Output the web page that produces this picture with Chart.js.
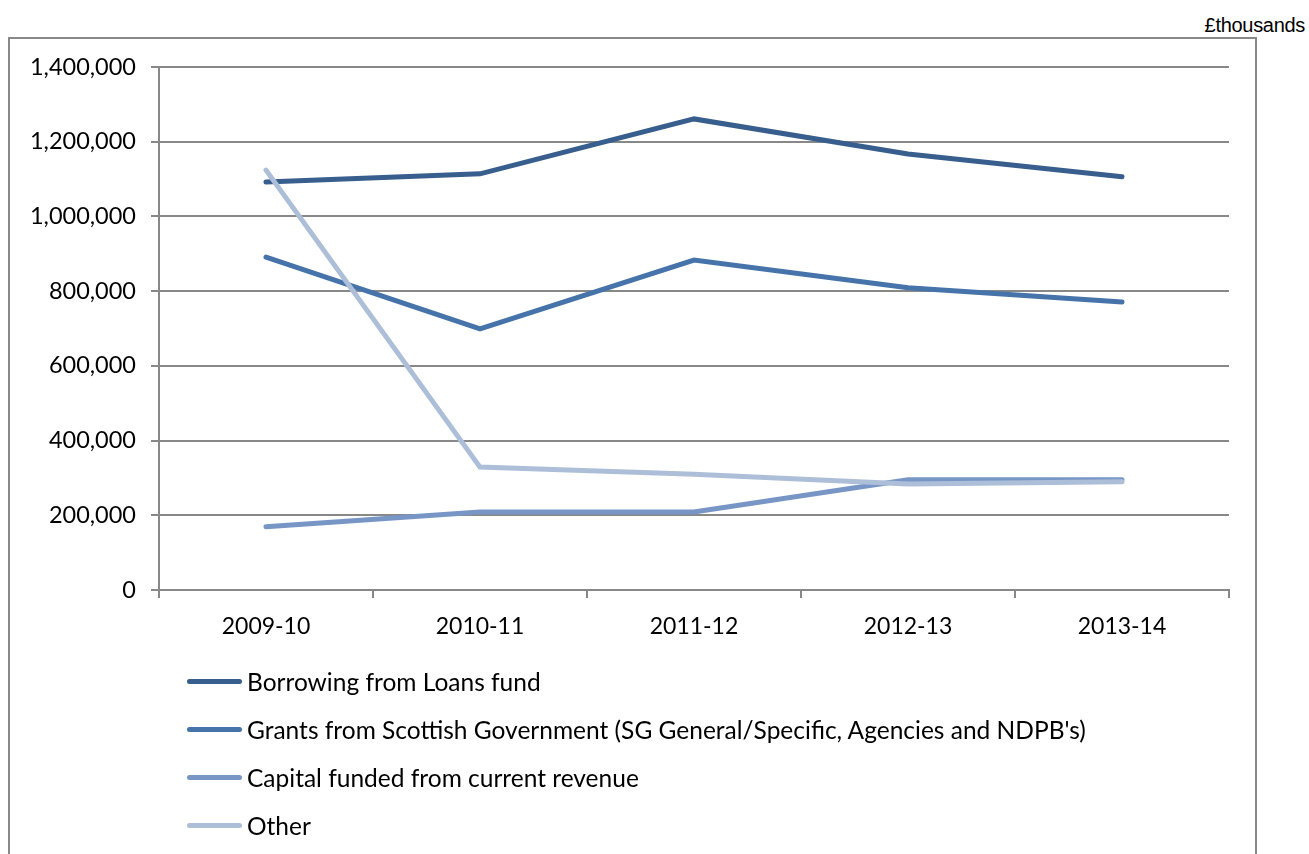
<!DOCTYPE html>
<html>
<head>
<meta charset="utf-8">
<script src="https://cdn.jsdelivr.net/npm/chart.js@4.4.1/dist/chart.umd.min.js"></script>
<style>
  body { margin: 0; background: #fff; width: 1309px; height: 854px; overflow: hidden; position: relative; }
  #frame { position: absolute; left: 8px; top: 37px; width: 1249px; height: 900px; border: 2px solid #888; box-sizing: border-box; }
  #unit { position: absolute; right: 4px; top: 14px; font: 20px "Liberation Sans", Arial, sans-serif; letter-spacing: -0.3px; color: #000; }
  #wrap { position: absolute; left: 0; top: 0; width: 1309px; height: 854px; }
  #legend { position: absolute; left: 187px; top: 657px; font: 24.5px Lato, sans-serif; color: #000; }
  .item { height: 48px; display: flex; align-items: center; }
  .swatch { width: 55px; height: 5px; border-radius: 3px; margin-right: 5px; }
</style>
</head>
<body>
<div id="frame"></div>
<div id="unit">£thousands</div>
<div id="wrap"><canvas id="chart" width="1309" height="854"></canvas></div>
<div id="legend"></div>
<script>
//data
const years = [ '2009-10', '2010-11', '2011-12', '2012-13', '2013-14' ];
const borrowing = [ 1092000, 1114000, 1261000, 1167000, 1106000 ];
const grants = [ 891000, 699000, 883000, 809000, 771000 ];
const capital = [ 169000, 209000, 209000, 295000, 295000 ];
const other = [ 1124000, 329000, 310000, 284000, 290000 ];
const seriesNames = [
	'Borrowing from Loans fund',
	"Grants from Scottish Government (SG General/Specific, Agencies and NDPB's)",
	'Capital funded from current revenue',
	'Other'
];
const seriesColors = [ 'rgb(56,94,141)', 'rgb(70,116,170)', 'rgb(119,150,197)', 'rgb(173,190,217)' ];
const yTicks = [ 0, 200000, 400000, 600000, 800000, 1000000, 1200000, 1400000 ];

const gridColor = '#888';
const seriesData = [ borrowing, grants, capital, other ];

//build datasets, later series on top like Excel
const datasets = seriesData.map((d, i) => ({
	label: seriesNames[i],
	data: d,
	borderColor: seriesColors[i],
	backgroundColor: seriesColors[i],
	borderWidth: 5,
	borderCapStyle: 'round',
	borderJoinStyle: 'miter',
	tension: 0,
	pointRadius: 0,
	order: seriesData.length - i
}));

const ctx = document.querySelector('#chart').getContext('2d');
const chart = new Chart(ctx, {
	type: 'line',
	data: { labels: years, datasets: datasets },
	options: {
		responsive: false,
		animation: false,
		layout: { padding: { top: 67, right: 80, bottom: 214, left: 0 } },
		plugins: { legend: { display: false }, tooltip: { enabled: false } },
		scales: {
			x: {
				offset: true,
				grid: { offset: true, drawOnChartArea: false, color: gridColor, lineWidth: 2, tickLength: 8 },
				border: { color: gridColor, width: 2 },
				ticks: { color: '#000', font: { family: 'Lato', size: 23 }, padding: 15, maxRotation: 0 },
				afterFit: (s) => { s.height = 50; }
			},
			y: {
				min: 0,
				max: 1400000,
				afterBuildTicks: (s) => { s.ticks = yTicks.map((v) => ({ value: v })); },
				grid: { color: gridColor, lineWidth: 2, tickLength: 8 },
				border: { color: gridColor, width: 2 },
				ticks: {
					color: '#000',
					font: { family: 'Lato', size: 23.5 },
					padding: 15,
					callback: (v) => v.toLocaleString('en-US')
				},
				afterFit: (s) => { s.width = 159; }
			}
		}
	}
});

//legend
const legend = document.querySelector('#legend');
legend.innerHTML = seriesNames
	.map((n, i) => `<div class="item"><div class="swatch" style="background:${seriesColors[i]}"></div><span>${n}</span></div>`)
	.join('');
</script>
</body>
</html>
